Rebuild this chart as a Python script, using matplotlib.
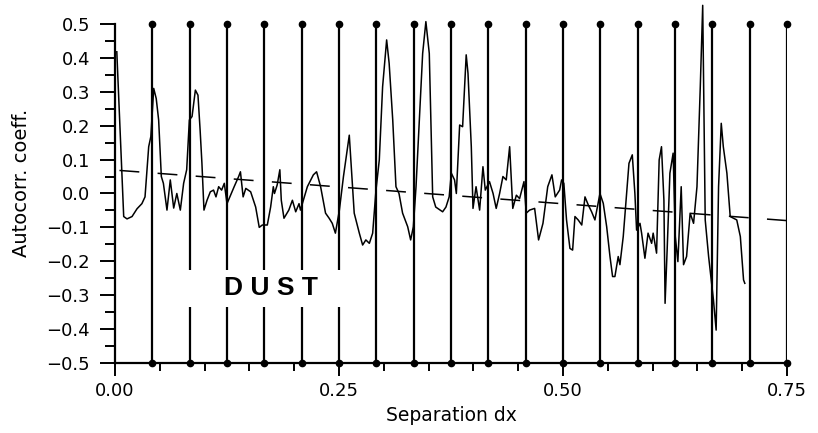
"""Autocorrelation of the DUST profile versus separation dx."""

import matplotlib

matplotlib.use("Agg")
import matplotlib.pyplot as plt
from matplotlib.patches import Rectangle
from matplotlib.ticker import FuncFormatter, MultipleLocator

# Autocorrelation curve.
sep_dx = [
    0.002, 0.0097, 0.0134, 0.019, 0.0246, 0.030, 0.0335, 0.0376, 0.040, 0.0432,
    0.046, 0.0487, 0.0517, 0.054, 0.058, 0.0617, 0.0655, 0.069, 0.0729, 0.0766,
    0.080, 0.083, 0.086, 0.0897, 0.0926, 0.095, 0.097, 0.0993, 0.1027, 0.1064,
    0.110, 0.1127, 0.1157, 0.119, 0.122, 0.125, 0.133, 0.138, 0.140, 0.143,
    0.146, 0.1514, 0.157, 0.161, 0.1644, 0.170, 0.1737, 0.1767, 0.178, 0.181,
    0.184, 0.1856, 0.1886, 0.194, 0.198, 0.2017, 0.2054, 0.207, 0.2147, 0.2214,
    0.225, 0.2295, 0.235, 0.239, 0.2425, 0.246, 0.2504, 0.255, 0.2615, 0.267,
    0.2727, 0.2764, 0.280, 0.2839, 0.2876, 0.2913, 0.295, 0.2987, 0.3032, 0.306,
    0.310, 0.3136, 0.317, 0.321, 0.3267, 0.330, 0.333, 0.336, 0.3397, 0.3434,
    0.347, 0.3508, 0.3546, 0.358, 0.3657, 0.3694, 0.373, 0.3754, 0.379, 0.381,
    0.3847, 0.388, 0.392, 0.394, 0.3977, 0.3996, 0.403, 0.407, 0.4107, 0.4133,
    0.418, 0.422, 0.4255, 0.4293, 0.433, 0.4367, 0.4405, 0.444, 0.448, 0.4516,
    0.4565, 0.459, 0.4628, 0.4684, 0.4728, 0.4777, 0.483, 0.4877, 0.4914, 0.4963,
    0.4985, 0.501, 0.504, 0.5078, 0.5108, 0.5134, 0.517, 0.521, 0.5246, 0.5283,
    0.532, 0.5357, 0.5413, 0.545, 0.5488, 0.5525, 0.5554, 0.558, 0.5617, 0.5636,
    0.5673, 0.571, 0.5737, 0.5774, 0.5803, 0.5822, 0.586, 0.5878, 0.5915, 0.595,
    0.599, 0.6007, 0.6045, 0.6074, 0.610, 0.6127, 0.614, 0.6163, 0.6194, 0.623,
    0.6254, 0.6283, 0.632, 0.6346, 0.638, 0.642, 0.6458, 0.6496, 0.6533, 0.656,
    0.6588, 0.6626, 0.6655, 0.668, 0.671, 0.6737, 0.6767, 0.679, 0.683, 0.6867,
    0.694, 0.698, 0.7016, 0.703,
]
autocorr = [
    0.418, -0.068, -0.075, -0.068, -0.045, -0.03, -0.01, 0.138, 0.168, 0.31,
    0.28, 0.217, 0.05, 0.03, -0.049, 0.04, -0.043, 0.0, -0.049, 0.03,
    0.07, 0.217, 0.227, 0.305, 0.29, 0.187, 0.09, -0.049, -0.02, 0.005,
    0.01, -0.01, 0.02, 0.01, 0.03, -0.03, 0.02, 0.05, 0.064, -0.01,
    0.015, 0.005, -0.04, -0.1, -0.093, -0.093, -0.04, 0.02, 0.0, 0.025,
    0.07, -0.02, -0.073, -0.049, -0.02, -0.054, -0.03, -0.049, 0.02, 0.055,
    0.064, 0.02, -0.058, -0.073, -0.088, -0.117, -0.05, 0.05, 0.172, -0.058,
    -0.117, -0.152, -0.137, -0.147, -0.117, 0.01, 0.099, 0.315, 0.453, 0.384,
    0.217, 0.02, 0.0, -0.058, -0.098, -0.137, -0.098, 0.02, 0.217, 0.413,
    0.507, 0.413, -0.01, -0.04, -0.054, -0.04, -0.01, 0.06, 0.04, 0.0,
    0.202, 0.197, 0.409, 0.355, 0.138, -0.044, 0.02, -0.049, 0.079, 0.01,
    0.035, 0.0, -0.044, 0.0, 0.05, 0.04, 0.138, -0.044, -0.005, -0.015,
    0.035, -0.058, -0.049, -0.044, -0.137, -0.088, 0.02, 0.055, -0.01, 0.01,
    0.04, 0.03, -0.078, -0.162, -0.167, -0.068, -0.078, -0.093, -0.01, -0.034,
    -0.054, -0.078, 0.0, -0.029, -0.098, -0.186, -0.245, -0.245, -0.186, -0.21,
    -0.127, 0.0, 0.089, 0.114, 0.0, -0.108, -0.088, -0.117, -0.191, -0.117,
    -0.147, -0.117, -0.176, 0.099, 0.138, -0.02, -0.324, -0.167, 0.06, 0.119,
    -0.127, -0.201, 0.02, -0.21, -0.186, -0.058, -0.088, 0.02, 0.315, 0.555,
    -0.078, -0.186, -0.255, -0.314, -0.403, 0.02, 0.207, 0.138, 0.06, -0.068,
    -0.078, -0.127, -0.255, -0.265,
]

# Straight fitted trend (dashed), end points.
trend_x = [0.005, 0.75]
trend_y = [0.068, -0.080]

# Periodic marker lines at multiples of 1/24.
marker_x = [k / 24 for k in range(1, 19)]

LABEL_FONT = ["DejaVu Sans"]
TITLE_FONT = ["Liberation Sans", "DejaVu Sans"]


def fmt(decimals):
    # real minus sign, like the printed axis
    return FuncFormatter(
        lambda v, _: f"{v:.{decimals}f}".replace("-", "\u2212")
        if abs(v) > 1e-9 else f"{0:.{decimals}f}"
    )


def main() -> None:
    fig = plt.figure(figsize=(8.18, 4.33), dpi=100)
    fig.patch.set_facecolor("white")
    ax = fig.add_axes([0.1406, 0.1617, 0.8214, 0.7829])

    # vertical marker lines with dots at both ends
    ax.vlines(marker_x, -0.5, 0.5, color="black", linewidth=1.6, zorder=2)
    ax.plot(marker_x, [0.5] * len(marker_x), "o", color="black", ms=4.5,
            clip_on=False, zorder=3)
    ax.plot(marker_x, [-0.5] * len(marker_x), "o", color="black", ms=4.5,
            clip_on=False, zorder=3)

    ax.plot(sep_dx, autocorr, color="black", linewidth=1.1, clip_on=False,
            zorder=4)
    trend, = ax.plot(trend_x, trend_y, color="black", linewidth=1.1, zorder=4)
    trend.set_dashes((13, 12))

    # label block: white patch that interrupts the marker lines
    ax.add_patch(Rectangle((0.075, -0.335), 0.19, 0.11, facecolor="white",
                           edgecolor="none", zorder=5))
    ax.text(0.174, -0.279, "D U S T", fontsize=19, fontweight="bold",
            family=TITLE_FONT, ha="center", va="center", zorder=6)

    ax.set_xlim(0, 0.75)
    ax.set_ylim(-0.5, 0.5)
    ax.spines["top"].set_visible(False)
    ax.spines["right"].set_visible(False)
    for side in ("left", "bottom"):
        ax.spines[side].set_linewidth(1.6)

    ax.xaxis.set_major_locator(MultipleLocator(0.25))
    ax.xaxis.set_minor_locator(MultipleLocator(0.05))
    ax.yaxis.set_major_locator(MultipleLocator(0.1))
    ax.yaxis.set_minor_locator(MultipleLocator(0.05))
    ax.xaxis.set_major_formatter(fmt(2))
    ax.yaxis.set_major_formatter(fmt(1))

    ax.tick_params(axis="y", which="major", direction="out", length=11,
                   width=1.4, pad=7, labelsize=13)
    ax.tick_params(axis="y", which="minor", direction="out", length=7,
                   width=1.4)
    ax.tick_params(axis="x", which="major", direction="out", length=9,
                   width=1.4, pad=5, labelsize=13)
    ax.tick_params(axis="x", which="minor", direction="out", length=6,
                   width=1.4)
    for lab in ax.get_xticklabels() + ax.get_yticklabels():
        lab.set_family(LABEL_FONT)

    ax.set_xlabel("Separation dx", fontsize=13.5, family=LABEL_FONT,
                  labelpad=4)
    ax.set_ylabel("Autocorr. coeff.", fontsize=14, family=LABEL_FONT,
                  labelpad=8)
    ax.yaxis.set_label_coords(-0.125, 0.53)

    fig.savefig("out.png", dpi=100, facecolor="white")


if __name__ == "__main__":
    main()
